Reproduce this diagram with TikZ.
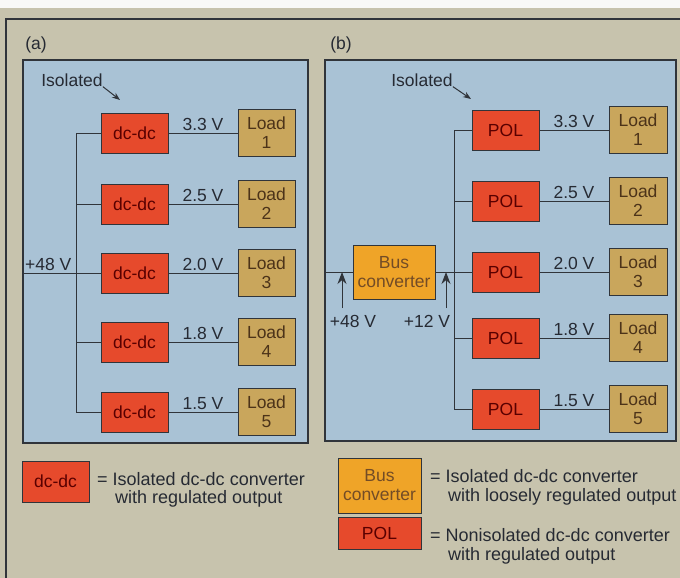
\documentclass[tikz,border=0pt]{standalone}
\usepackage{fontspec}
\setmainfont{Liberation Sans}
\usetikzlibrary{arrows.meta}
\definecolor{paper}{HTML}{C7C3AD}
\definecolor{panelblue}{HTML}{A9C2D5}
\definecolor{convred}{HTML}{E64A2C}
\definecolor{loadtan}{HTML}{C9A65C}
\definecolor{busorange}{HTML}{EFA428}
\definecolor{ink}{HTML}{262A33}
\definecolor{wirec}{HTML}{30343A}
\newcommand{\txt}{\fontsize{17.5}{19}\selectfont}
\newcommand{\legtxt}{\fontsize{18}{19}\selectfont}

\begin{document}
\begin{tikzpicture}[x=1pt,y=-1pt,
  every node/.style={font=\txt,text=ink,inner sep=1pt},
  panel/.style={draw=wirec,line width=1.2pt,fill=panelblue,inner sep=0pt},
  conv/.style={draw=wirec,line width=1pt,fill=convred,text=red!35!black,
    minimum width=67pt,minimum height=40pt,inner sep=0pt},
  load/.style={draw=wirec,line width=1pt,fill=loadtan,text=brown!40!black,
    minimum width=57pt,minimum height=47pt,inner sep=0pt,align=center},
  bus/.style={draw=wirec,line width=1pt,fill=busorange,text=brown!60!black,
    minimum width=82pt,minimum height=54pt,inner sep=0pt,align=center},
  wire/.style={draw=wirec,line width=1pt},
  volt/.style={above=2pt,inner sep=0pt},
  tip/.style={wire,-{Stealth[length=12pt,width=9pt]}},
  legend/.style={font=\legtxt,anchor=west,inner sep=0pt}]
  \useasboundingbox (0,0) rectangle (680,578);
  \clip (0,0) rectangle (680,578);

  % page and frame
  \fill[white!90!paper] (0,0) rectangle (680,578);
  \fill[paper] (0,8) rectangle (680,578);
  \draw[wirec,line width=2pt] (6,600) -- (6,19) -- (700,19);

  % panels
  \node[panel,minimum width=285pt,minimum height=383pt] (pana) at (165.5,251.5) {};
  \node[panel,minimum width=351pt,minimum height=381pt] (panb) at (500.5,250.5) {};
  \node (taga) at (36,45) {(a)};
  \node (tagb) at (341,45) {(b)};

  % (a) one isolated converter per load
  \foreach \i/\y/\v in {1/133/3.3,2/204/2.5,3/273/2.0,4/342/1.8,5/412/1.5}{
    \node[conv] (ca\i) at (134.5,\y) {dc-dc};
    \node[load] (la\i) at (266.5,\y) {Load\\\i};
    \draw[wire] (ca\i) -- (la\i) node[midway,volt] {\v{} V};
  }
  \draw[wire] (ca1.west) -- ++(-24,0) |- (ca5.west);
  \foreach \i in {2,3,4}{\draw[wire] (ca\i.west) -- ++(-24,0);}
  \draw[wire] (pana.west |- ca3.west) -- (ca3.west)
    node[pos=0.33,volt] (va48) {+48 V};
  \node[inner sep=0pt] (isoa) at (72,80) {Isolated};
  \coordinate (isoaend) at (120,100);
  \draw[wire,-{Stealth[length=8pt,width=6pt]}] (isoa.south east) -- (isoaend);

  % (b) bus converter feeding POL converters
  \foreach \i/\y/\v in {1/130/3.3,2/201/2.5,3/272/2.0,4/338/1.8,5/409/1.5}{
    \node[conv] (pb\i) at (505.5,\y) {POL};
    \node[load,minimum width=58pt] (lb\i) at (638,\y) {Load\\\i};
    \draw[wire] (pb\i) -- (lb\i) node[midway,volt] {\v{} V};
  }
  \draw[wire] (pb1.west) -- ++(-17,0) |- (pb5.west);
  \foreach \i in {2,4}{\draw[wire] (pb\i.west) -- ++(-17,0);}
  \node[bus] (busb) at (394,272) {Bus\\converter};
  \draw[wire] (panb.west |- busb.west) -- (busb.west);
  \draw[wire] (busb.east) -- (pb3.west);
  \node (vb48) at (353,321) {+48 V};
  \node (vb12) at (427,321) {+12 V};
  \coordinate (in48) at (342,308);
  \coordinate (in12) at (446,308);
  \draw[tip] (in48) -- (in48 |- busb.west);
  \draw[tip] (in12) -- (in12 |- busb.east);
  \node[inner sep=0pt] (isob) at (422,80) {Isolated};
  \coordinate (isobend) at (471,99);
  \draw[wire,-{Stealth[length=8pt,width=6pt]}] (isob.south east) -- (isobend);

  % legend
  \node[conv,minimum height=41pt] (kdc) at (55.5,481.5) {dc-dc};
  \node[legend] (kdct1) at (97,479) {= Isolated dc-dc converter};
  \node[legend] (kdct2) at (115,499) {with regulated output};
  \node[bus,minimum width=83pt,minimum height=55pt] (kbus) at (379.5,485.5) {Bus\\converter};
  \node[legend] (kbust1) at (430,476) {= Isolated dc-dc converter};
  \node[legend] (kbust2) at (448,497) {with loosely regulated output};
  \node[conv,minimum width=83pt,minimum height=32pt] (kpol) at (379.5,533) {POL};
  \node[legend] (kpolt1) at (430,535) {= Nonisolated dc-dc converter};
  \node[legend] (kpolt2) at (448,556) {with regulated output};
\end{tikzpicture}
\end{document}
